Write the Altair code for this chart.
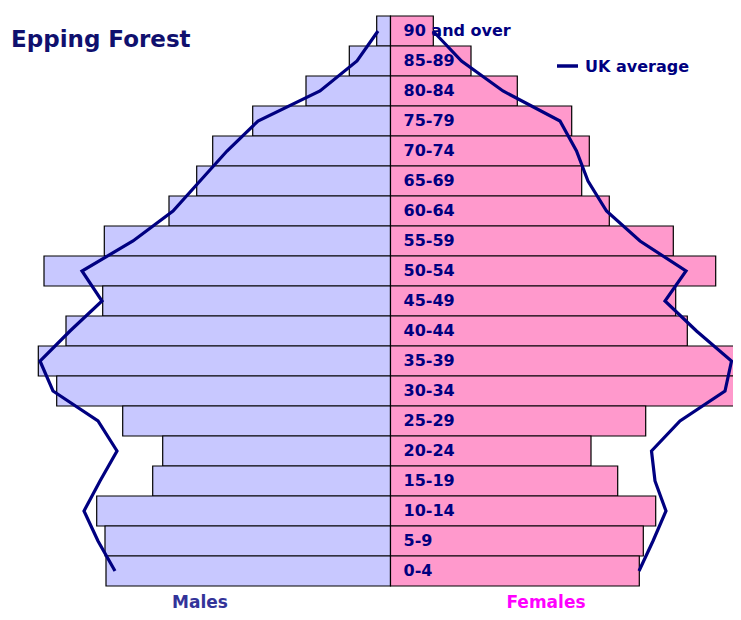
import altair as alt
import pandas as pd

ages = ["90 and over", "85-89", "80-84", "75-79", "70-74", "65-69", "60-64",
        "55-59", "50-54", "45-49", "40-44", "35-39", "30-34", "25-29",
        "20-24", "15-19", "10-14", "5-9", "0-4"]
males = [13.8, 41.2, 84.5, 137.8, 177.8, 193.8, 221.5, 286.2, 346.5, 287.8,
         324.5, 352.2, 333.8, 267.8, 227.8, 237.8, 293.8, 285.5, 284.5]
females = [42.8, 80.5, 126.8, 181.2, 198.8, 191.2, 218.8, 282.8, 325.2, 285.2,
           296.8, 356.0, 347.2, 255.2, 200.5, 227.2, 265.2, 252.8, 248.8]
uk_males = [12.5, 33.5, 70.5, 132.5, 163.5, 190.5, 217.5, 257.5, 308.5, 288.5,
            320.5, 350.5, 337.5, 292.5, 273.5, 290.5, 306.5, 292.5, 275.5]
uk_females = [42.5, 71.0, 112.5, 169.5, 186.0, 197.5, 216.0, 249.5, 295.5, 274.5,
              306.0, 341.0, 334.5, 289.5, 261.0, 264.5, 275.5, 262.5, 248.5]

W, H = 725, 604
CX = 382.5
ROW = 30.0
TOP = 8.0

rows = []
for i, a in enumerate(ages):
    rows.append(dict(age=a, idx=i, idx2=i + 1, mid=i + 0.5,
                     m=-males[i], f=females[i],
                     um=-uk_males[i], uf=uk_females[i]))
df = pd.DataFrame(rows)

xs = alt.Scale(domain=[-CX, W - CX], nice=False, zero=False)
ys = alt.Scale(domain=[-TOP / ROW, (H - TOP) / ROW], reverse=True, nice=False, zero=False)

base = alt.Chart(df)
X = lambda f: alt.X(f, type="quantitative", scale=xs, axis=None)
Y = lambda f: alt.Y(f, type="quantitative", scale=ys, axis=None)

male_bars = base.mark_rect(fill="#c8c8ff", stroke="#000000", strokeWidth=1.2).encode(
    x=X("m"), x2=alt.X2(datum=0), y=Y("idx"), y2="idx2")
female_bars = base.mark_rect(fill="#ff99cc", stroke="#000000", strokeWidth=1.2).encode(
    x=X("f"), x2=alt.X2(datum=0), y=Y("idx"), y2="idx2")

labels = base.mark_text(align="left", baseline="middle", dx=13, font="DejaVu Sans",
                        fontWeight="bold", fontSize=16, color="#000080").encode(
    x=alt.X(datum=0, type="quantitative", scale=xs, axis=None), y=Y("mid"), text="age")

uk_m = base.mark_line(color="#000080", strokeWidth=3.2).encode(
    x=X("um"), y=Y("mid"), order="idx")
uk_f = base.mark_line(color="#000080", strokeWidth=3.2).encode(
    x=X("uf"), y=Y("mid"), order="idx")

title = alt.Chart(pd.DataFrame({"t": ["Epping Forest"]})).mark_text(
    align="left", baseline="alphabetic", font="DejaVu Sans", fontWeight="bold",
    fontSize=23, color="#10106e").encode(x=alt.value(3), y=alt.value(39), text="t")

leg_line = alt.Chart(pd.DataFrame({"k": [1]})).mark_rule(color="#000080", strokeWidth=3.5).encode(
    x=alt.value(549), x2=alt.value(570), y=alt.value(58))
leg_text = alt.Chart(pd.DataFrame({"t": ["UK average"]})).mark_text(
    align="left", baseline="middle", font="DejaVu Sans", fontWeight="bold",
    fontSize=16, color="#000080").encode(x=alt.value(577), y=alt.value(59), text="t")

males_txt = alt.Chart(pd.DataFrame({"t": ["Males"]})).mark_text(
    align="center", baseline="alphabetic", font="DejaVu Sans", fontWeight="bold",
    fontSize=17, color="#333399").encode(x=alt.value(192), y=alt.value(600), text="t")
females_txt = alt.Chart(pd.DataFrame({"t": ["Females"]})).mark_text(
    align="center", baseline="alphabetic", font="DejaVu Sans", fontWeight="bold",
    fontSize=17, color="#ff00ff").encode(x=alt.value(538), y=alt.value(600), text="t")

chart = alt.layer(male_bars, female_bars, labels, uk_m, uk_f, title, leg_line, leg_text,
                  males_txt, females_txt).properties(
    width=W, height=H, padding=0, autosize=alt.AutoSizeParams(type="none")
).configure_view(stroke=None)

chart.save("out.html", embed_options={"renderer": "svg", "actions": False})
